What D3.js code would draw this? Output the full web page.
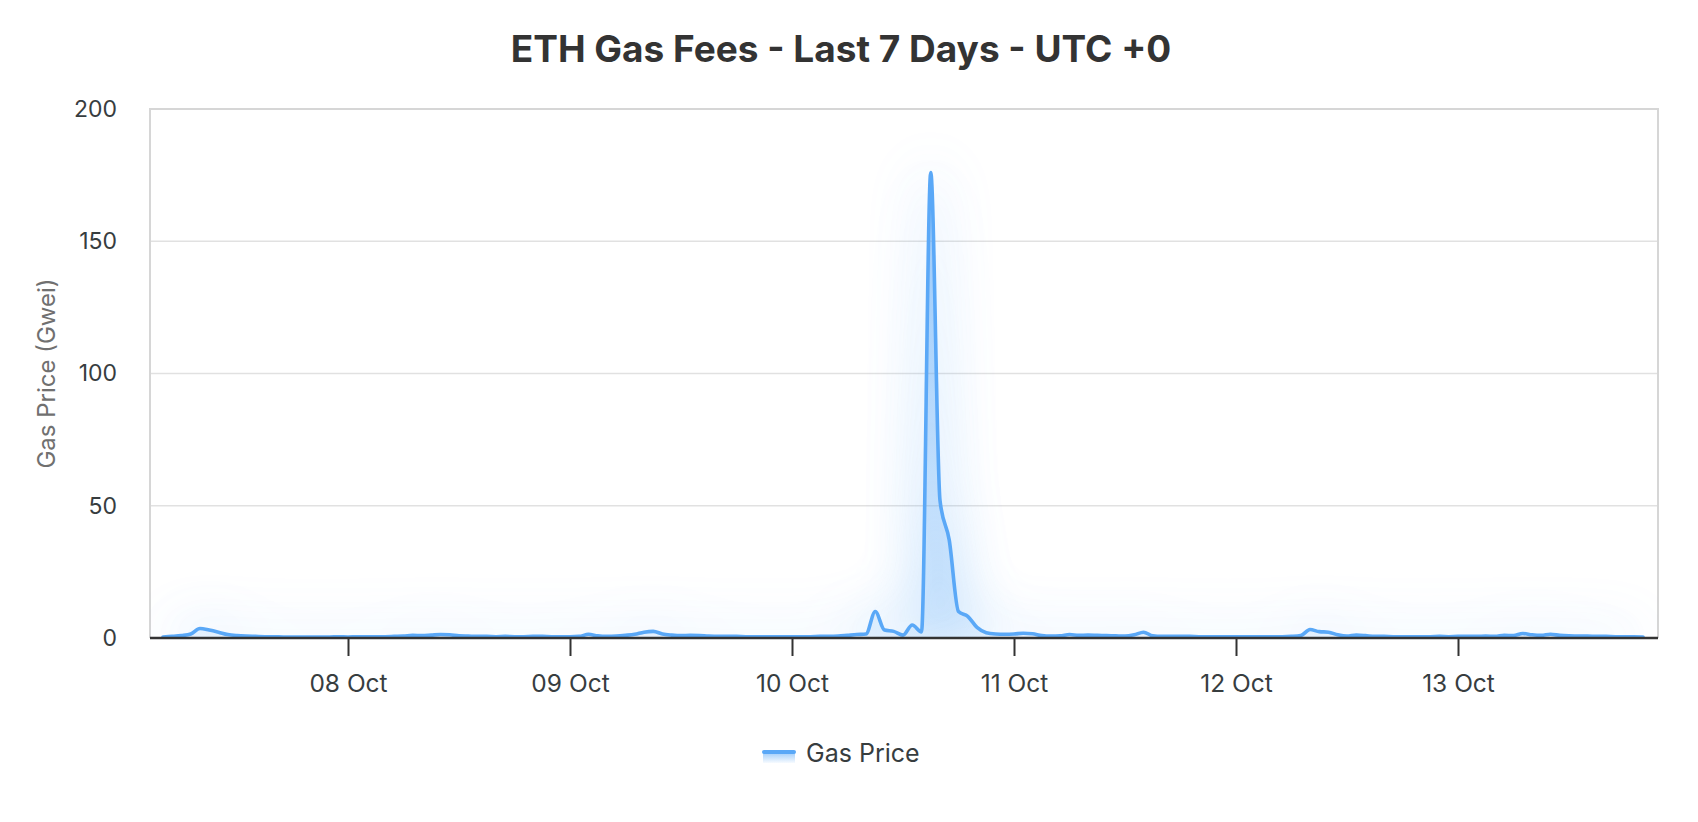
<!DOCTYPE html>
<html><head><meta charset="utf-8">
<script src="https://cdn.jsdelivr.net/npm/d3@7"></script>
<style>
body{margin:0;background:#fff;}
svg{display:block;font-family:Inter,"Helvetica Neue",Arial,sans-serif;}
</style>
</head><body><svg id="chart" width="1698" height="822"></svg>
<script>
const chartTitle = "ETH Gas Fees - Last 7 Days - UTC +0";
const seriesName = "Gas Price";
const yAxisTitle = "Gas Price (Gwei)";
// hourly samples, first one at 07 Oct 04:00 UTC
const startTime = "2025-10-07T04:00:00Z";
const gasPrice = [
  0.4,0.6,0.9,1.5,3.6,3.0,2.2,1.3,0.9,0.7,0.6,0.5,0.5,0.4,0.4,0.4,0.4,0.4,0.4,0.5,
  0.4,0.5,0.5,0.5,0.5,0.6,0.7,1.0,0.9,1.1,1.3,1.2,0.8,0.7,0.6,0.6,0.5,0.6,0.5,0.5,0.6,0.6,0.5,0.5,
  0.5,0.6,1.4,0.8,0.6,0.7,1.0,1.4,2.2,2.5,1.5,1.1,0.9,1.0,0.9,0.7,0.6,0.6,0.6,0.5,0.5,0.5,0.5,0.5,
  0.5,0.5,0.5,0.6,0.6,0.7,1.0,1.3,1.5,10.0,3.0,2.5,1.1,4.9,2.3,176,52,37,10,8.2,4.0,2.0,1.5,1.4,
  1.5,1.8,1.6,0.9,0.7,0.8,1.3,1.0,1.1,1.0,0.9,0.8,0.7,1.2,2.2,0.8,0.6,0.6,0.6,0.6,0.5,0.5,0.5,0.5,
  0.5,0.5,0.5,0.5,0.5,0.5,0.6,0.9,3.2,2.4,2.2,1.2,0.7,1.1,0.9,0.6,0.6,0.5,0.5,0.5,0.5,0.5,0.6,0.5,
  0.6,0.6,0.6,0.7,0.6,1.0,0.9,1.7,1.2,1.0,1.4,1.0,0.8,0.7,0.7,0.6,0.6,0.5,0.5,0.5,0.4
];
const yTickValues = [0, 50, 100, 150, 200];
const xTickDates = ["2025-10-08","2025-10-09","2025-10-10","2025-10-11","2025-10-12","2025-10-13"];

const color = "#5aa8f7";
const FONT = 'Inter,"Helvetica Neue",Arial,sans-serif';
const HOUR = 3600 * 1000;
const t0 = new Date(startTime).getTime();
const data = gasPrice.map((v, i) => ({ t: new Date(t0 + i * HOUR), v }));

const svg = d3.select("#chart");
const plot = { left: 150, right: 1658, top: 109, bottom: 638 };

const x = d3.scaleUtc()
  .domain(d3.extent(data, d => d.t))
  .range([163, 1643]);
const y = d3.scaleLinear().domain([0, 200]).range([plot.bottom, plot.top]);

const defs = svg.append("defs");
const grad = defs.append("linearGradient").attr("id", "areaGrad")
  .attr("x1", 0).attr("y1", 0).attr("x2", 0).attr("y2", 1);
grad.append("stop").attr("offset", "0%").attr("stop-color", color).attr("stop-opacity", 0.62);
grad.append("stop").attr("offset", "100%").attr("stop-color", color).attr("stop-opacity", 0.12);

const legGrad = defs.append("linearGradient").attr("id", "legGrad")
  .attr("x1", 0).attr("y1", 0).attr("x2", 0).attr("y2", 1);
legGrad.append("stop").attr("offset", "0%").attr("stop-color", color).attr("stop-opacity", 0.6);
legGrad.append("stop").attr("offset", "100%").attr("stop-color", color).attr("stop-opacity", 0.05);

const blur = defs.append("filter").attr("id", "glow")
  .attr("x", "-80%").attr("y", "-50%").attr("width", "260%").attr("height", "200%");
blur.append("feGaussianBlur").attr("stdDeviation", 28);

defs.append("clipPath").attr("id", "plotClip").append("rect")
  .attr("x", plot.left).attr("y", plot.top)
  .attr("width", plot.right - plot.left).attr("height", plot.bottom - plot.top);

// Title
svg.append("text").attr("x", 841).attr("y", 48).attr("text-anchor", "middle")
  .attr("dominant-baseline", "central")
  .attr("font-size", 37).attr("font-weight", 700).attr("fill", "#333")
  .text(chartTitle);

// gridlines
svg.append("g").selectAll("line").data(yTickValues.filter(d => d > 0 && d < 200)).join("line")
  .attr("x1", plot.left).attr("x2", plot.right)
  .attr("y1", d => y(d)).attr("y2", d => y(d))
  .attr("stroke", "#e1e1e1").attr("stroke-width", 1.5);

// plot border (top, left, right)
svg.append("path")
  .attr("d", `M${plot.left},${plot.bottom}V${plot.top}H${plot.right}V${plot.bottom}`)
  .attr("fill", "none").attr("stroke", "#d6d6d6").attr("stroke-width", 2);

const area = d3.area().x(d => x(d.t)).y0(y(0)).y1(d => y(d.v)).curve(d3.curveMonotoneX);
const line = d3.line().x(d => x(d.t)).y(d => y(d.v)).curve(d3.curveMonotoneX);

const series = svg.append("g").attr("clip-path", "url(#plotClip)");
series.append("path").datum(data).attr("d", area)
  .attr("fill", color).attr("opacity", 0.36).attr("filter", "url(#glow)");
series.append("path").datum(data).attr("d", line)
  .attr("fill", "none").attr("stroke", color).attr("stroke-width", 16)
  .attr("opacity", 0.14).attr("filter", "url(#glow)");
series.append("path").datum(data).attr("d", area).attr("fill", "url(#areaGrad)");
series.append("path").datum(data).attr("d", line)
  .attr("fill", "none").attr("stroke", color).attr("stroke-width", 3.6)
  .attr("stroke-linejoin", "round").attr("stroke-linecap", "round");

// y axis
const yAxis = svg.append("g").attr("transform", `translate(${plot.left},0)`)
  .call(d3.axisLeft(y).tickValues(yTickValues).tickSize(0).tickPadding(33).tickFormat(d3.format("d")));
yAxis.select(".domain").remove();
yAxis.selectAll("text").attr("font-size", 23).attr("fill", "#373d3f").attr("font-family", FONT);

// x axis
const xAxis = svg.append("g").attr("transform", `translate(0,${plot.bottom})`)
  .call(d3.axisBottom(x).tickValues(xTickDates.map(s => new Date(s + "T00:00:00Z")))
    .tickSize(18).tickPadding(19).tickFormat(d3.utcFormat("%d %b")));
xAxis.select(".domain").attr("d", `M${plot.left},0H${plot.right}`)
  .attr("stroke", "#333").attr("stroke-width", 2.5);
xAxis.selectAll(".tick line").attr("stroke", "#333").attr("stroke-width", 2);
xAxis.selectAll("text").attr("font-size", 24.5).attr("fill", "#373d3f").attr("font-family", FONT);

// y axis title
svg.append("text")
  .attr("transform", `translate(46,${(plot.top + plot.bottom) / 2}) rotate(-90)`)
  .attr("text-anchor", "middle").attr("dominant-baseline", "central")
  .attr("font-size", 24).attr("fill", "#707070")
  .text(yAxisTitle);

// legend
const leg = svg.append("g").attr("transform", "translate(763,752)");
leg.append("rect").attr("x", 0).attr("y", 0).attr("width", 32).attr("height", 11)
  .attr("fill", "url(#legGrad)");
leg.append("line").attr("x1", 1).attr("x2", 31).attr("y1", 0).attr("y2", 0)
  .attr("stroke", color).attr("stroke-width", 4).attr("stroke-linecap", "round");
leg.append("text").attr("x", 43).attr("y", 1).attr("dominant-baseline", "central")
  .attr("font-size", 25).attr("fill", "#373d3f").text(seriesName);
</script>
</body></html>
